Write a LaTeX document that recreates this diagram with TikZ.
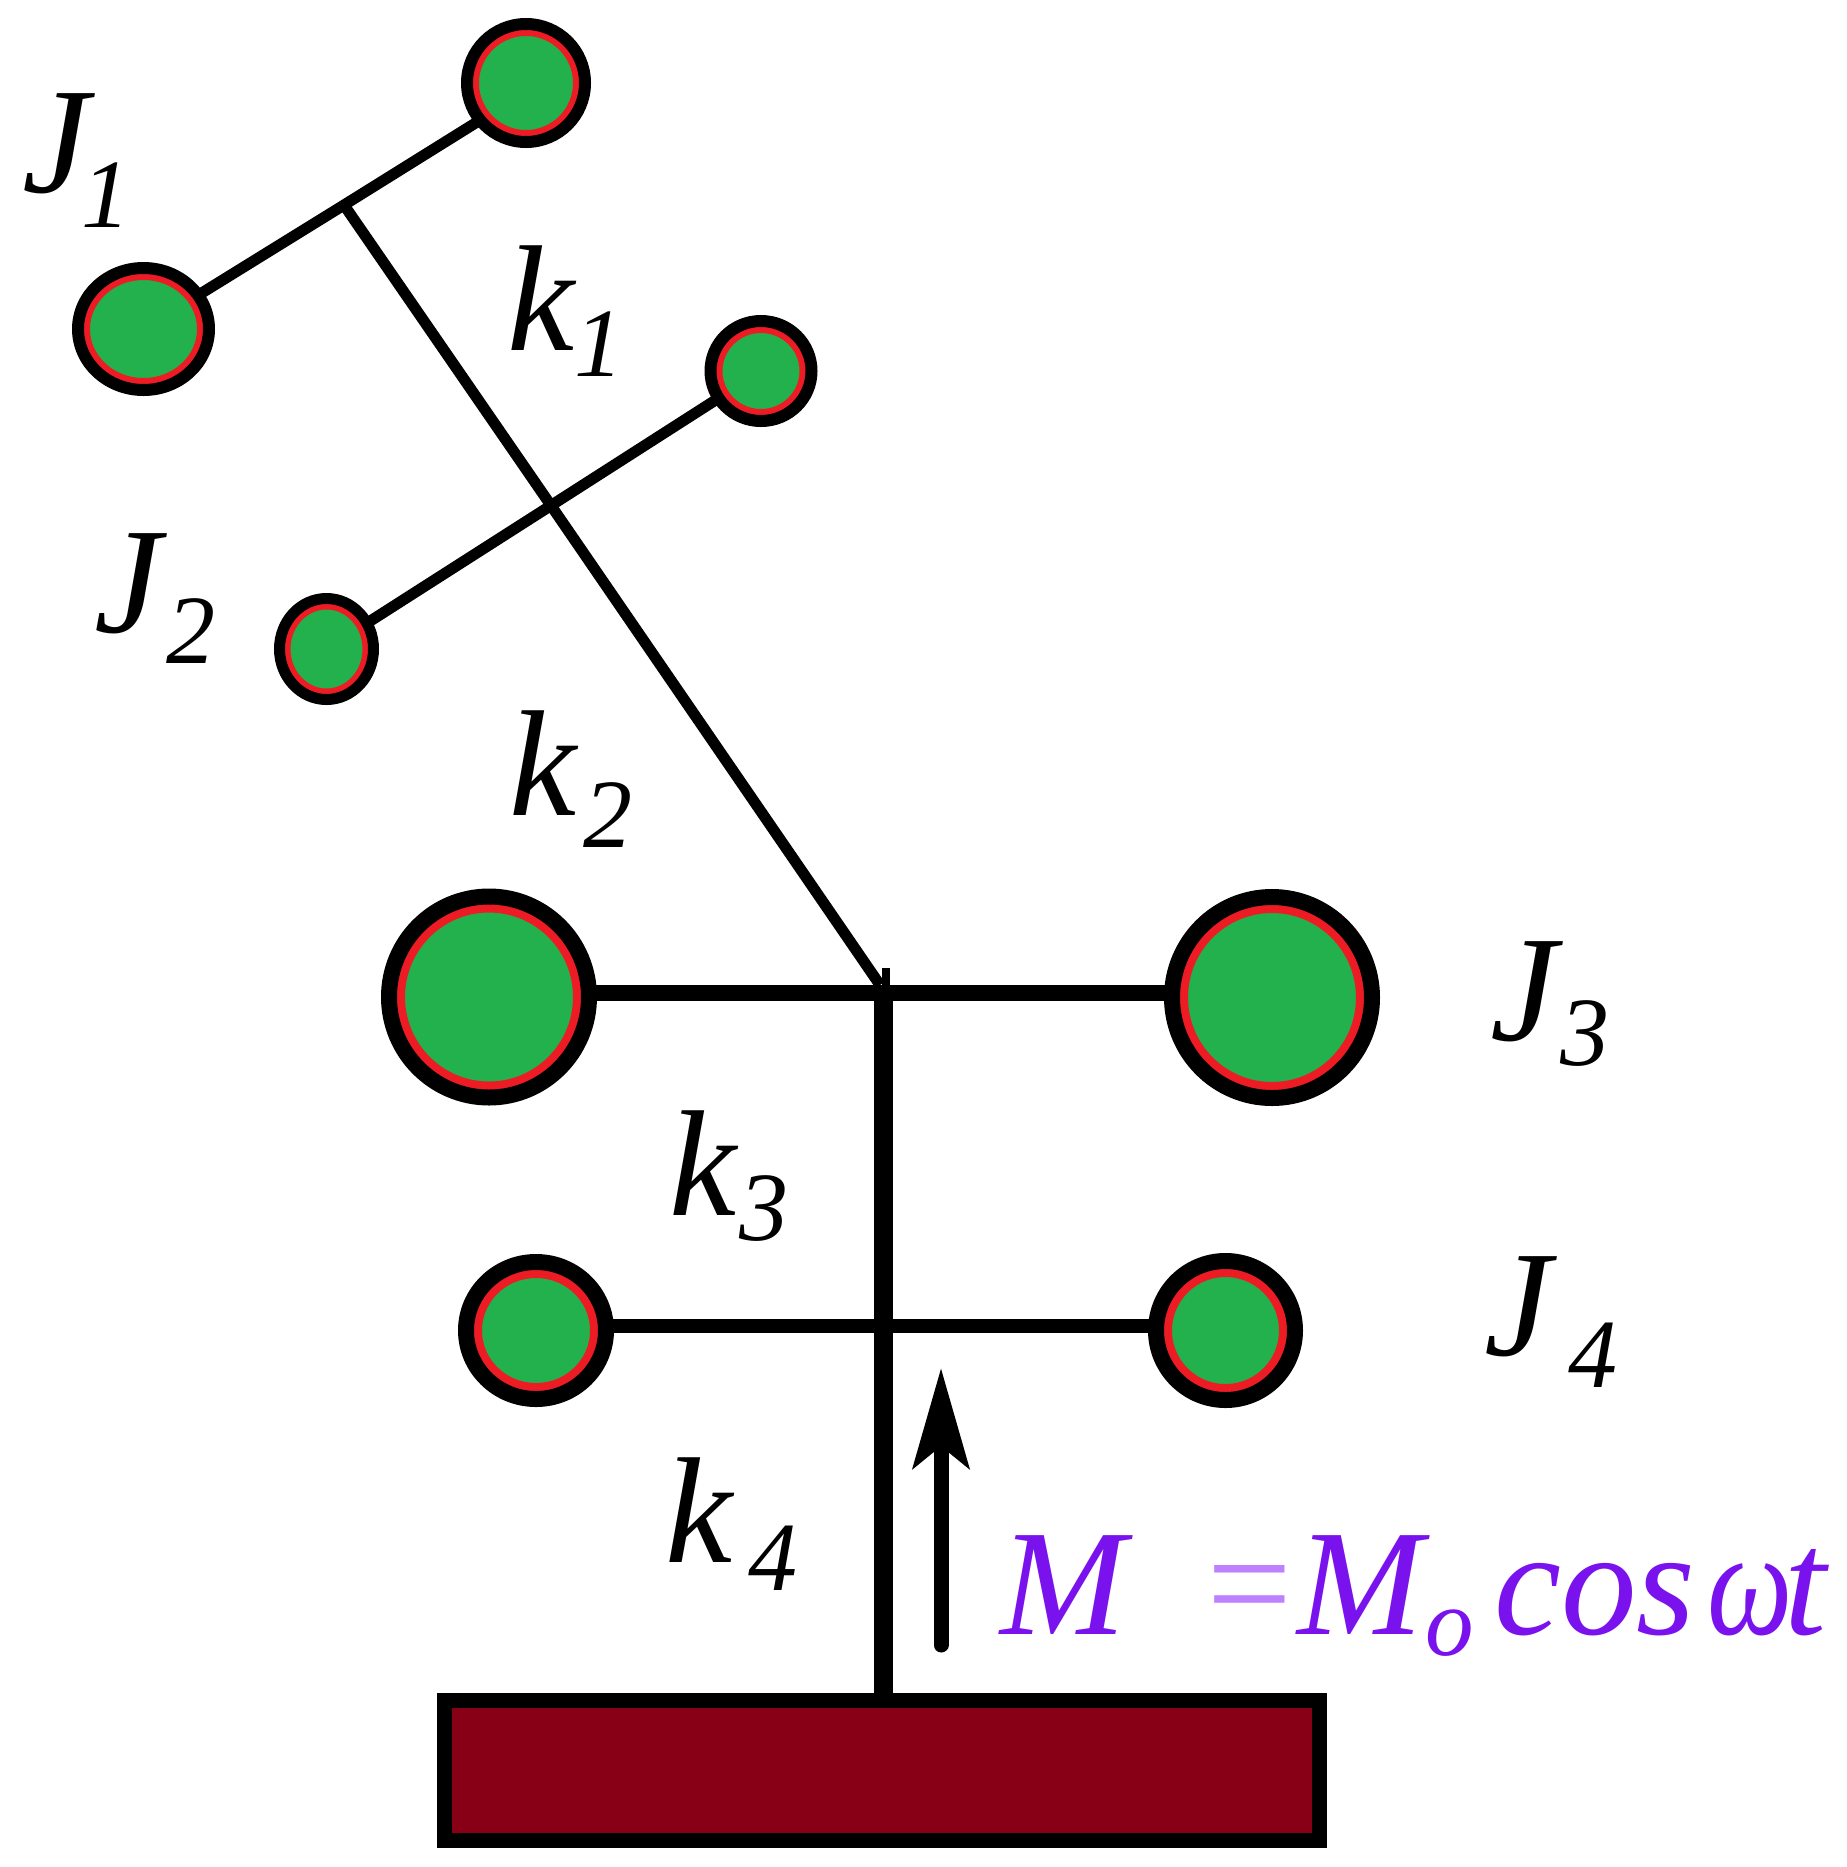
\documentclass[tikz,border=0pt]{standalone}
\usepackage{fontspec}
\usepackage{graphicx}
\setmainfont{Liberation Serif}
\usetikzlibrary{arrows.meta,shapes.geometric}
\definecolor{ballgreen}{HTML}{22B14C}
\definecolor{ringred}{HTML}{ED1C24}
\definecolor{basered}{HTML}{880015}
\definecolor{torquepurple}{HTML}{7A12EE}
\definecolor{equalpurple}{HTML}{BE80FF}
\newcommand{\sublab}[4]{#1\kern#2bp\raisebox{-#3bp}{\fontsize{98bp}{98bp}\selectfont #4}}
\tikzset{
	ball/.style n args={3}{ellipse,draw=black,fill=ballgreen,line width=#3 bp,inner sep=0pt,outer sep=0pt,
		minimum width=#1 bp-#3 bp,minimum height=#2 bp-#3 bp,
		path picture={\draw[ringred,line width=2*#3 bp] (path picture bounding box.center) circle [x radius={(#1-#3)*0.5bp},y radius={(#2-#3)*0.5bp}];}},
	thinrod/.style={line width=11bp},
	lab/.style={anchor=base west,inner sep=0pt,font=\fontsize{151bp}{151bp}\selectfont\itshape}
}
\begin{document}
\begin{tikzpicture}[x=1bp,y=-1bp]
	\useasboundingbox (0,0) rectangle (1847,1867);
	% rods
	\coordinate (hubA) at (344,205);
	\coordinate (hubB) at (551,505.5);
	\coordinate (hubC) at (883,992.5);
	\coordinate (hubD) at (883,1326);
	\coordinate (hubTop) at (880,985);
	% masses
	\node[ball={130}{130}{12}] (ballA) at (526,83) {};
	\node[ball={143}{134}{12}] (ballB) at (143.5,329) {};
	\node[ball={113}{112}{12}] (ballC) at (761,371) {};
	\node[ball={105}{112}{11}] (ballD) at (326.5,649) {};
	\node[ball={216}{217}{16}] (ballE) at (489,997) {};
	\node[ball={216}{217}{16}] (ballF) at (1272,997.5) {};
	\node[ball={156}{153}{16}] (ballG) at (536,1330.5) {};
	\node[ball={155}{155}{16}] (ballH) at (1225.5,1330.5) {};
	\node[draw=black,fill=basered,line width=15bp,inner sep=0pt,minimum width=875bp,minimum height=140bp] (base) at (882,1770.5) {};
	\draw[thinrod] (ballB) -- (hubA) -- (ballA.219);
	\draw[thinrod] (ballD) -- (hubB) -- (ballC);
	\draw[thinrod] (hubA) -- (hubB) -- (hubTop);
	\draw[line width=8bp] (886,968) -- (886,992);
	\draw[line width=16bp] (hubC -| ballE.east) -- (hubC -| ballF.west);
	\draw[line width=14bp] (hubD -| ballG.east) -- (hubD -| ballH.west);
	\draw[line width=19bp] (883,985) -- (hubD) -- (hubD |- base.north);
	% torque arrow
	\coordinate (arrowFoot) at (941,1645);
	\coordinate (arrowTip) at (941,1368);
	\draw[-{Stealth[length=100bp,width=56bp,inset=22bp]},line width=15bp,line cap=round] (arrowFoot) -- (arrowTip);
	% labels
	\node[lab] (labJa) at (22,192) {\sublab{J}{-8}{35}{1}};
	\node[lab] (labJb) at (94,632) {\sublab{J}{5}{31}{2}};
	\node[lab] (labJc) at (1490,1040) {\sublab{J}{3}{25}{3}};
	\node[lab] (labJd) at (1484,1355) {\sublab{J}{17}{32}{4}};
	\node[lab] (labKa) at (507,350) {\sublab{k}{0}{26}{1}};
	\node[lab] (labKb) at (509,815) {\sublab{k}{7}{32}{2}};
	\node[lab] (labKc) at (669,1215) {\sublab{k}{3}{25}{3}};
	\node[lab] (labKd) at (665,1562) {\sublab{k}{16}{28}{4}};
	\node[lab,text=torquepurple] (labM) at (1000,1634) {M\kern72bp{\color{equalpurple}=}\kern-2bp M\kern2bp\raisebox{-21bp}{\fontsize{97bp}{97bp}\selectfont o}\kern20bp cos\kern12bp\scalebox{0.8}[1]{ω}\kern-8bp t};
\end{tikzpicture}
\end{document}
